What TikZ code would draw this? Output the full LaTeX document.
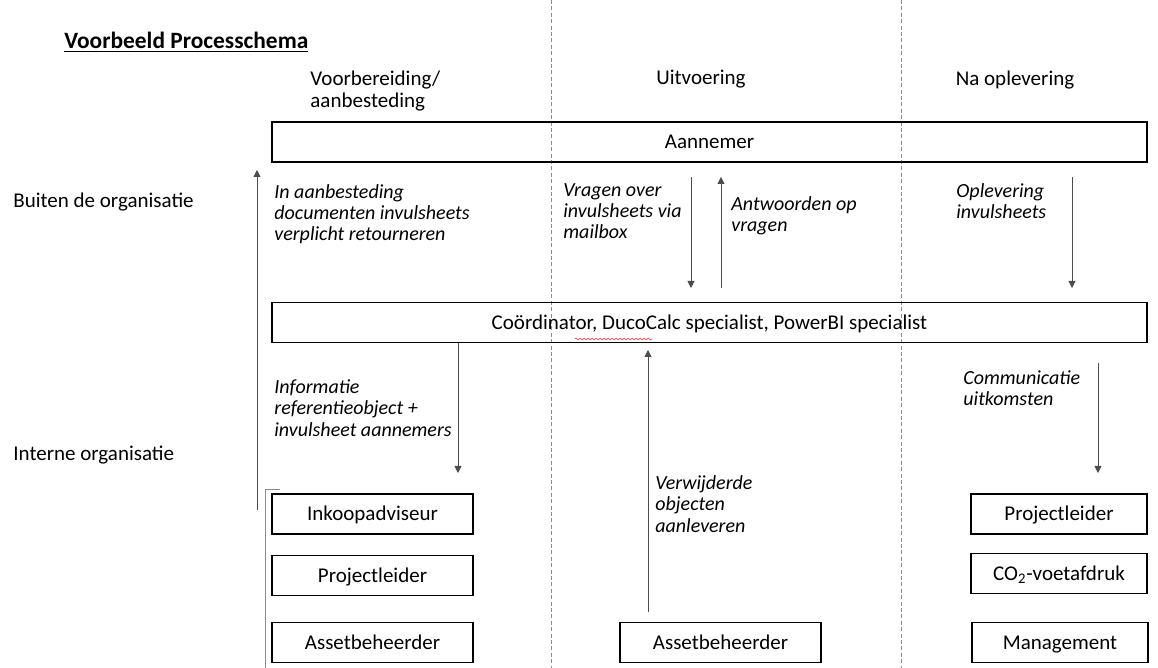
\documentclass[tikz,border=0pt]{standalone}
\usepackage{fontspec}
\setmainfont{Carlito}
\usetikzlibrary{arrows.meta,decorations.pathmorphing}
\begin{document}
\begin{tikzpicture}[x=0.5pt,y=-0.5pt,>={Triangle[width=3.5pt,length=3.5pt]},
        font=\fontsize{10.5}{11}\selectfont,
        role box/.style={draw,line width=0.8pt,minimum height=20pt,inner sep=0pt,text height=8pt,text depth=1.2pt},
        flow/.style={->,draw=black!70,line width=0.4pt},
        note/.style={anchor=west,align=left,inner sep=0pt,font=\fontsize{10}{10.6}\selectfont\itshape},
        plain/.style={anchor=west,align=left,inner sep=0pt},
        lane/.style={draw=black!45,line width=0.4pt,dash pattern=on 2pt off 1.2pt}]
            \useasboundingbox (0,0) rectangle (1158,668);

            % fase scheiding
            \draw[lane] (551,0) -- (551,668);
            \draw[lane] (901,0) -- (901,668);

            \node[plain,font=\fontsize{11.7}{12}\selectfont\bfseries] at (64,42) (title) {\underline{Voorbeeld Processchema}};
            \node[plain] at (310,91) (voorb) {Voorbereiding/\\aanbesteding};
            \node[inner sep=0pt] at (701,79) (uitv) {Uitvoering};
            \node[inner sep=0pt] at (1015,80) (naopl) {Na oplevering};
            \node[plain] at (13,202) (buiten) {Buiten de organisatie};
            \node[plain] at (13,455) (intern) {Interne organisatie};

            \node[role box,minimum width=437.5pt] at (709.5,142) (aannemer) {Aannemer};
            \node[role box,minimum width=437.5pt] at (709.5,322.5) (coord) {Co\"ordinator, DucoCalc specialist, PowerBI specialist};

            \node[role box,minimum width=100.5pt] at (372.5,514) (inkoop) {Inkoopadviseur};
            \node[role box,minimum width=100.5pt] at (372.5,575.5) (pl1) {Projectleider};
            \node[role box,minimum width=100.5pt] at (372.5,642.5) (asset1) {Assetbeheerder};
            \node[role box,minimum width=100.5pt] at (720.5,642.5) (asset2) {Assetbeheerder};
            \node[role box,minimum width=88pt] at (1059,514) (pl2) {Projectleider};
            \node[role box,minimum width=88pt] at (1059,573.5) (co2) {CO\textsubscript{2}-voetafdruk};
            \node[role box,minimum width=88pt] at (1060,642.5) (mgmt) {Management};

            \node[note] at (274,214) (inaan) {In aanbesteding\\documenten invulsheets\\verplicht retourneren};
            \node[note] at (563,211) (vragen) {Vragen over\\invulsheets via\\mailbox};
            \node[note] at (731,216) (antw) {Antwoorden op\\vragen};
            \node[note] at (956,201) (oplev) {Oplevering\\invulsheets};
            \node[note] at (274,408) (info) {Informatie\\referentieobject +\\invulsheet aannemers};
            \node[note] at (655,504) (verw) {Verwijderde\\objecten\\aanleveren};
            \node[note] at (963,388) (comm) {Communicatie\\uitkomsten};

            \coordinate (l1) at (257,510);  \coordinate (l2) at (257,170);
            \coordinate (v1) at (691,177);  \coordinate (v2) at (691,288);
            \coordinate (a1) at (721,288);  \coordinate (a2) at (721,177);
            \coordinate (o1) at (1072,177); \coordinate (o2) at (1072,288);
            \coordinate (i1) at (458,343);  \coordinate (i2) at (458,473);
            \coordinate (w1) at (648,612);  \coordinate (w2) at (648,350);
            \coordinate (c1) at (1098,363); \coordinate (c2) at (1098,473);
            \coordinate (b1) at (280,489);  \coordinate (b2) at (265,489); \coordinate (b3) at (265,668);

            \path (l1) edge[flow] (l2)
                (v1) edge[flow] (v2)
                (a1) edge[flow] (a2)
                (o1) edge[flow] (o2)
                (i1) edge[flow] (i2)
                (w1) edge[flow] (w2)
                (c1) edge[flow] (c2);
            \draw[draw=black!45,line width=0.4pt] (b1) -- (b2) -- (b3);

            % spellingcontrole onder DucoCalc
            \draw[red!80,line width=0.3pt,decorate,decoration={snake,amplitude=0.5pt,segment length=2pt}] (575,339) -- (652,339);
        \end{tikzpicture}
\end{document}
